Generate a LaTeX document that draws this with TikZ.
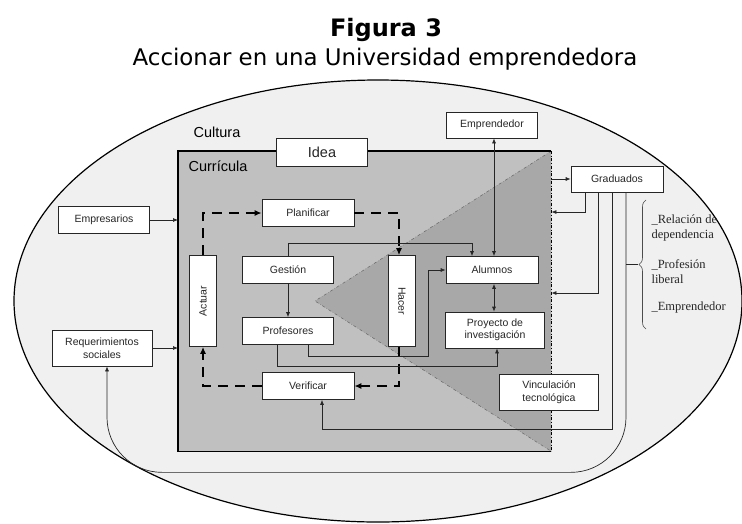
\documentclass[tikz,border=0pt]{standalone}
\usepackage{fontspec}
\setmainfont{Liberation Sans}
\newfontfamily\titlefont{DejaVu Sans}
\newfontfamily\notefont{Liberation Serif}
\usetikzlibrary{arrows.meta,calc,decorations.pathreplacing}
\definecolor{culturagray}{HTML}{F0F0F0}
\definecolor{curriculagray}{HTML}{C0C0C0}
\definecolor{acciongray}{HTML}{A8A8A8}
\tikzset{
    caja/.style={draw=black!85, fill=white, line width=0.7pt, inner sep=1pt, align=center,
        minimum width=91pt, minimum height=27pt, font=\fontsize{10.5}{12.5}\selectfont, text=black!85},
    ciclo/.style={line width=2.5pt, dash pattern=on 10pt off 7pt, -{Latex[length=7pt,width=6pt]}},
    enlace/.style={line width=0.7pt, draw=black!85},
    nota/.style={font=\notefont\fontsize{12.5}{15}\selectfont, align=left, anchor=west, text=black!85},
}
\begin{document}
\begin{tikzpicture}[x=1pt, y=-1pt, >={Latex[length=5pt,width=4pt]}]
        \useasboundingbox (0,0) rectangle (742,523);

        \node[font=\titlefont\bfseries\fontsize{24}{28}\selectfont, anchor=base] (fig) at (386,36) {Figura 3};
        \node[font=\titlefont\fontsize{22.9}{27}\selectfont, anchor=base] (tit) at (385,65) {Accionar en una Universidad emprendedora};

        \draw[line width=1.2pt, fill=culturagray] (378,301) ellipse [x radius=364, y radius=221];
        \node[font=\fontsize{14.5}{17}\selectfont] (cul) at (217,132) {Cultura};

        \node[fill=curriculagray, minimum width=373pt, minimum height=300pt, inner sep=0pt, anchor=north west] (cur) at (178,151) {};
        \fill[acciongray] (315,301) -- (cur.north east) -- (cur.south east) -- cycle;
        \draw[black!60, dash dot, line width=0.5pt] (cur.north east) -- (315,301) -- (cur.south east);
        \draw[line width=1.2pt] (cur.north east) -- (cur.north west) -- (cur.south west) -- (cur.south east);
        \draw[dash dot, line width=0.6pt] (cur.north east) -- (cur.south east);
        \node[font=\fontsize{14.5}{17}\selectfont] (curt) at (218,166) {Currícula};

        \node[caja, font=\fontsize{14.5}{17}\selectfont, minimum height=28pt] (idea) at (322,152) {Idea};
        \node[caja] (emp) at (104,220) {Empresarios};
        \node[caja, minimum width=100pt, minimum height=36pt] (req) at (102,348) {Requerimientos\\sociales};
        \node[caja, minimum width=92pt] (pla) at (308,213) {Planificar};
        \node[caja] (ges) at (288,270) {Gestión};
        \node[caja] (pro) at (288,331) {Profesores};
        \node[caja, minimum width=92pt] (ver) at (308,386) {Verificar};
        \node[caja, minimum width=27pt, minimum height=91pt] (act) at (203,301) {\rotatebox{90}{Actuar}};
        \node[caja, minimum width=27pt, minimum height=91pt] (hac) at (402,301) {\rotatebox{-90}{Hacer}};
        \node[caja, minimum width=92pt] (alu) at (492,270) {Alumnos};
        \node[caja, minimum width=99pt, minimum height=36pt] (pry) at (495,330) {Proyecto de\\investigación};
        \node[caja, minimum height=26pt] (epr) at (492,125) {Emprendedor};
        \node[caja, minimum width=92pt, minimum height=26pt] (gra) at (617,179) {Graduados};
        \node[caja, minimum width=99pt, minimum height=36pt] (vin) at (549,392) {Vinculación\\tecnológica};

        \draw[ciclo] (act.north) |- (pla.west);
        \draw[ciclo] (pla.east) -| ([xshift=-3pt]hac.north);
        \draw[ciclo] ([xshift=-3pt]hac.south) |- (ver.east);
        \draw[ciclo] (ver.west) -| (act.south);

        \draw[enlace, ->] (emp) -- (emp -| cur.west);
        \draw[enlace, ->] (req) -- (req -| cur.west);
        \draw[enlace, <->] ([xshift=2pt]epr.south) -- ([xshift=2pt]alu.north);
        \draw[enlace, <->] ([xshift=2pt]alu.south) -- ([xshift=2pt]alu.south |- pry.north);
        \draw[enlace, ->] (ges) -- (pro);
        \draw[enlace, ->] (ges.north) -- ++(0,-13) -| ([xshift=-20pt]alu.north);
        \draw[enlace, ->] ([xshift=20pt]pro.south) -- ++(0,11) -| ($(alu.west)+(-17,0)$) -- (alu.west);
        \draw[enlace, ->] ([xshift=-11pt]pro.south) -- ++(0,21) -| ([xshift=2pt]pry.south);

        \draw[enlace, ->] (gra.west -| cur.east) -- (gra.west);
        \draw[enlace, ->] ([xshift=-32pt]gra.south) |- ($(cur.north east)+(0,61)$);
        \draw[enlace, ->] ([xshift=-19pt]gra.south) |- ($(cur.north east)+(0,142)$);
        \draw[enlace, ->] ([xshift=-5pt]gra.south) |- ($(ver.south)+(14,29)$) -- ([xshift=14pt]ver.south);
        \coordinate (g4) at ([xshift=9pt]gra.south);
        \draw[enlace, ->, rounded corners=55pt] (g4) |- ($(req.south)+(5,106)$) -- ([xshift=5pt]req.south);

        \coordinate (tip) at (638,264);
        \draw[black!70, line width=0.6pt, decorate, decoration={brace, amplitude=7pt}] (646,329) -- (646,200);
        \draw[enlace] (tip -| g4) -- (tip);
        \node[nota] (n1) at (648,228) {\_Relación de\\dependencia};
        \node[nota] (n2) at (648,272) {\_Profesión\\liberal};
        \node[nota] (n3) at (648,307) {\_Emprendedor};
    \end{tikzpicture}
\end{document}
